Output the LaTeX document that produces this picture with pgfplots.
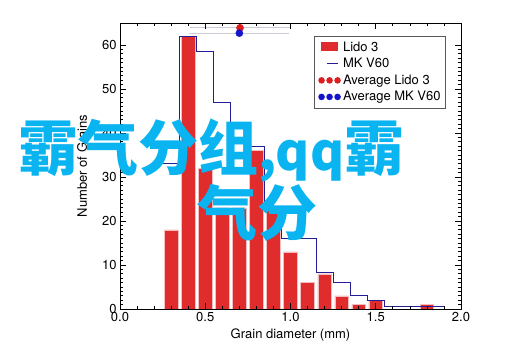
\documentclass[border=0pt]{standalone}
\usepackage{pgfplots}
\pgfplotsset{compat=1.18}
\usepackage{fontspec}
\setmainfont{TeX Gyre Heros}
\newfontfamily\cjk{Noto Sans CJK SC}
\definecolor{barred}{RGB}{224,44,44}
\definecolor{baredge}{RGB}{245,190,190}
\definecolor{navyline}{RGB}{35,30,150}
\definecolor{avgred}{RGB}{222,30,30}
\definecolor{avgblue}{RGB}{20,20,205}
\definecolor{errgray}{RGB}{205,205,215}
\definecolor{overlay}{RGB}{10,180,240}
\newcommand{\tf}{\fontsize{13bp}{15bp}\selectfont}
\begin{document}
\begin{tikzpicture}
\path[use as bounding box] (0,0) rectangle (515bp,359bp);
\begin{axis}[
  at={(120bp,50bp)}, anchor=south west, scale only axis,
  width=341bp, height=286bp,
  xmin=0, xmax=2, ymin=0, ymax=65,
  xtick={0,0.5,1,1.5,2}, minor x tick num=4,
  ytick={0,10,20,30,40,50,60}, minor y tick num=9,
  xticklabel style={/pgf/number format/.cd, fixed, fixed zerofill, precision=1},
  /pgf/number format/assume math mode=true,
  tick align=inside,
  major tick length=6bp, minor tick length=3bp,
  every tick/.style={black, line width=0.7bp},
  axis line style={line width=1bp},
  axis on top,
  tick label style={font=\tf},
  label style={font=\tf},
  xlabel={Grain diameter (mm)}, ylabel={Number of Grains},
  xlabel style={at={(axis description cs:0.5,-0.09)}, anchor=center},
  ylabel style={at={(axis description cs:-0.111,0.5)}, anchor=center},
  legend cell align=left,
  legend style={at={(0.956,0.955)}, anchor=north east, draw=gray!70!black,
    line width=0.8bp, font=\tf, inner xsep=3bp, inner ysep=3.5bp, row sep=1.6bp},
]
\addplot[ybar, bar width=0.08, fill=barred, draw=baredge, line width=0.5bp,
  legend image code/.code={\path[draw=none,fill=none] (-4bp,-4bp) rectangle (20bp,4bp); \fill[barred, draw=none] (0bp,-4bp) rectangle (17bp,5bp);}]
  coordinates {(0.3,18) (0.4,62) (0.5,32) (0.6,23) (0.7,23) (0.8,36) (0.9,23) (1.0,13) (1.1,6) (1.2,8) (1.3,3) (1.4,1) (1.5,2) (1.8,1)};
\addlegendentry{Lido 3}
\addplot[const plot, navyline, line width=1bp,
  legend image code/.code={\path[draw=none,fill=none] (-4bp,-4bp) rectangle (20bp,4bp); \draw[navyline, line width=1bp] (6bp,0bp) -- (17bp,0bp);}]
  coordinates {(0.25,33) (0.35,62) (0.45,58.5) (0.55,47) (0.65,41) (0.75,37) (0.85,23) (0.95,16) (1.05,16) (1.15,8.2) (1.25,6) (1.35,3) (1.45,2) (1.55,0.5) (1.9,0.5)};
\addlegendentry{MK V60}
\addplot[only marks, mark=*, mark size=3.6bp, color=avgred,
  legend image code/.code={\path[draw=none,fill=none] (-4bp,-4bp) rectangle (20bp,4bp); \fill[avgred, draw=none] (0.5bp,0bp) circle (3.3bp) (8.5bp,0bp) circle (3.3bp) (16.5bp,0bp) circle (3.3bp);},
  error bars/.cd, x dir=both, x explicit,
  error bar style={errgray, line width=1bp},
  error mark options={errgray, mark size=3bp, line width=1bp}]
  coordinates {(0.704,63.9) +- (0.275,0)};
\addlegendentry{Average Lido 3}
\addplot[only marks, mark=*, mark size=3.6bp, color=avgblue,
  legend image code/.code={\path[draw=none,fill=none] (-4bp,-4bp) rectangle (20bp,4bp); \fill[avgblue, draw=none] (0.5bp,0bp) circle (3.3bp) (8.5bp,0bp) circle (3.3bp) (16.5bp,0bp) circle (3.3bp);},
  error bars/.cd, x dir=both, x explicit,
  error bar style={errgray, line width=1bp},
  error mark options={errgray, mark size=3bp, line width=1bp}]
  coordinates {(0.700,62.7) +- (0.275,0)};
\addlegendentry{Average MK V60}
\end{axis}
\node[anchor=base west, inner sep=0, text=overlay, font=\cjk\bfseries\fontsize{60bp}{60bp}\selectfont] at (18bp,188bp) {霸气分组{\fontsize{52bp}{52bp}\selectfont,qq}霸};
\node[anchor=base west, inner sep=0, text=overlay, font=\cjk\bfseries\fontsize{60bp}{60bp}\selectfont] at (197bp,123bp) {气分};
\end{tikzpicture}
\end{document}
